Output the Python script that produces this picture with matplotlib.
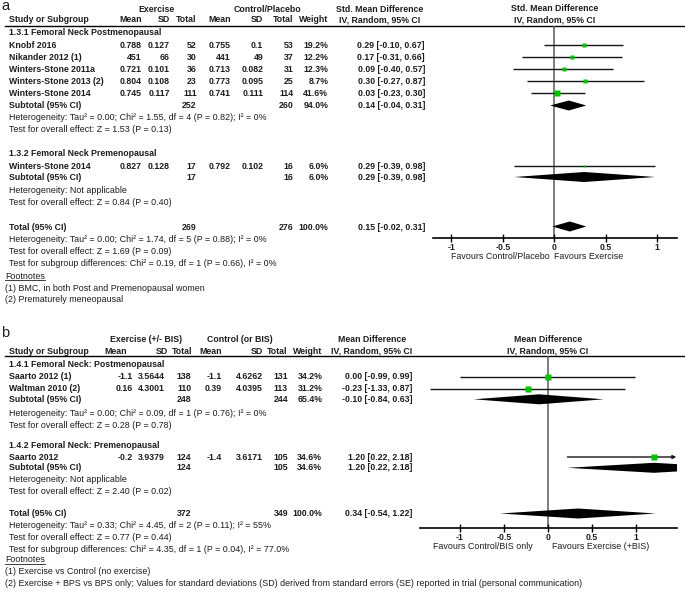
import numpy as np
import matplotlib.pyplot as plt

plt.rcParams['font.family'] = ['Liberation Sans', 'DejaVu Sans']

W, H = 685, 595

# ---------------- panel a data ----------------
a_groups = ["1.3.1 Femoral Neck Postmenopausal", "1.3.2 Femoral Neck Premenopausal"]
a_study = ["Knobf 2016", "Nikander 2012 (1)", "Winters-Stone 2011a",
           "Winters-Stone 2013 (2)", "Winters-Stone 2014", "Winters-Stone 2014"]
a_exp_mean = [0.788, 451, 0.721, 0.804, 0.745, 0.827]
a_exp_sd = [0.127, 66, 0.101, 0.108, 0.117, 0.128]
a_exp_n = [52, 30, 36, 23, 111, 17]
a_ctl_mean = [0.755, 441, 0.713, 0.773, 0.741, 0.792]
a_ctl_sd = [0.1, 49, 0.082, 0.095, 0.111, 0.102]
a_ctl_n = [53, 37, 31, 25, 114, 16]
a_weight = [19.2, 12.2, 12.3, 8.7, 41.6, 6.0]
a_est = [0.29, 0.17, 0.09, 0.30, 0.03, 0.29]
a_lo = [-0.10, -0.31, -0.40, -0.27, -0.23, -0.39]
a_hi = [0.67, 0.66, 0.57, 0.87, 0.30, 0.98]
a_sub_est = [0.14, 0.29]
a_sub_lo = [-0.04, -0.39]
a_sub_hi = [0.31, 0.98]
a_sub_exp_n = [252, 17]
a_sub_ctl_n = [260, 16]
a_sub_w = [94.0, 6.0]
a_tot = [0.15, -0.02, 0.31]
a_tot_n = [269, 276]
a_sub_het = ["Heterogeneity: Tau² = 0.00; Chi² = 1.55, df = 4 (P = 0.82); I² = 0%",
             "Heterogeneity: Not applicable"]
a_sub_z = ["Test for overall effect: Z = 1.53 (P = 0.13)",
           "Test for overall effect: Z = 0.84 (P = 0.40)"]
a_tot_notes = ["Heterogeneity: Tau² = 0.00; Chi² = 1.74, df = 5 (P = 0.88); I² = 0%",
               "Test for overall effect: Z = 1.69 (P = 0.09)",
               "Test for subgroup differences: Chi² = 0.19, df = 1 (P = 0.66), I² = 0%"]
a_foot = ["(1) BMC, in both Post and Premenopausal women",
          "(2) Prematurely meneopausal"]
a_heads = ["Exercise", "Control/Placebo", "Std. Mean Difference"]
a_favours = ["Favours Control/Placebo", "Favours Exercise"]

# ---------------- panel b data ----------------
b_groups = ["1.4.1 Femoral Neck: Postmenopausal", "1.4.2 Femoral Neck: Premenopausal"]
b_study = ["Saarto 2012 (1)", "Waltman 2010 (2)", "Saarto 2012"]
b_exp_mean = [-1.1, 0.16, -0.2]
b_exp_sd = [3.5644, 4.3001, 3.9379]
b_exp_n = [138, 110, 124]
b_ctl_mean = [-1.1, 0.39, -1.4]
b_ctl_sd = [4.6262, 4.0395, 3.6171]
b_ctl_n = [131, 113, 105]
b_weight = [34.2, 31.2, 34.6]
b_est = [0.00, -0.23, 1.20]
b_lo = [-0.99, -1.33, 0.22]
b_hi = [0.99, 0.87, 2.18]
b_sub_est = [-0.10, 1.20]
b_sub_lo = [-0.84, 0.22]
b_sub_hi = [0.63, 2.18]
b_sub_exp_n = [248, 124]
b_sub_ctl_n = [244, 105]
b_sub_w = [65.4, 34.6]
b_tot = [0.34, -0.54, 1.22]
b_tot_n = [372, 349]
b_sub_het = ["Heterogeneity: Tau² = 0.00; Chi² = 0.09, df = 1 (P = 0.76); I² = 0%",
             "Heterogeneity: Not applicable"]
b_sub_z = ["Test for overall effect: Z = 0.28 (P = 0.78)",
           "Test for overall effect: Z = 2.40 (P = 0.02)"]
b_tot_notes = ["Heterogeneity: Tau² = 0.33; Chi² = 4.45, df = 2 (P = 0.11); I² = 55%",
               "Test for overall effect: Z = 0.77 (P = 0.44)",
               "Test for subgroup differences: Chi² = 4.35, df = 1 (P = 0.04), I² = 77.0%"]
b_foot = ["(1) Exercise vs Control (no exercise)",
          "(2) Exercise + BPS vs BPS only; Values for standard deviations (SD) derived "
          "from standard errors (SE) reported in trial (personal communication)"]
b_heads = ["Exercise (+/- BIS)", "Control (or BIS)", "Mean Difference"]
b_favours = ["Favours Control/BIS only", "Favours Exercise (+BIS)"]

ticks = [-1, -0.5, 0, 0.5, 1]
tick_labels = ["-1", "-0.5", "0", "0.5", "1"]

FS = 6.4      # plain notes
FSB = 6.3     # bold table text
FSN = 6.3     # bold numbers
TXT = '#1c1c1c'
GREEN = '#00c400'

fig = plt.figure(figsize=(W / 100, H / 100), dpi=100)
bg = fig.add_axes([0, 0, 1, 1])
bg.set_xlim(0, W)
bg.set_ylim(H, 0)
bg.axis('off')


def t(x, y, s, ha='left', bold=False, size=None, **kw):
    return bg.text(x, y, s, ha=ha, va='center', color=TXT,
                   fontsize=size or (FSB if bold else FS),
                   fontweight='bold' if bold else 'normal', **kw)


def ci(e, l, h):
    return f"{e:.2f} [{l:.2f}, {h:.2f}]"


def panel(d, lay):
    cx = lay['cols']
    hx = lay.get('hcols', cx)
    t(1, lay['letter'], d['letter'], size=10.5)
    # headers
    t(lay['hx'][0], lay['h1'], d['heads'][0], ha='center', bold=True)
    t(lay['hx'][1], lay['h1'], d['heads'][1], ha='center', bold=True)
    t(lay['hx'][2], lay['h1'], d['heads'][2], ha='center', bold=True)
    t(lay['hx'][2], lay['h2'], "IV, Random, 95% CI", ha='center', bold=True)
    t(9, lay['h2'], "Study or Subgroup", bold=True)
    for x, s in zip(hx[:7], ["Mean", "SD", "Total", "Mean", "SD", "Total", "Weight"]):
        t(x, lay['h2'], s, ha='right', bold=True)
    bg.plot([5, W], [lay['line'], lay['line']], color='black', lw=1.0)

    # study rows
    for i, s in enumerate(d['study']):
        y = lay['study'][i]
        t(9, y, s, bold=True)
        vals = [str(d['exp_mean'][i]), str(d['exp_sd'][i]), str(d['exp_n'][i]),
                str(d['ctl_mean'][i]), str(d['ctl_sd'][i]), str(d['ctl_n'][i]),
                f"{d['weight'][i]:.1f}%"]
        for x, v in zip(cx, vals):
            t(x, y, v, ha='right', bold=True, size=FSN)
        t(cx[7], y, ci(d['est'][i], d['lo'][i], d['hi'][i]), ha='right', bold=True)
    # subgroups
    for g in range(2):
        t(9, lay['group'][g], d['groups'][g], bold=True)
        y = lay['sub'][g]
        t(9, y, "Subtotal (95% CI)", bold=True)
        t(cx[2], y, str(d['sub_exp_n'][g]), ha='right', bold=True, size=FSN)
        t(cx[5], y, str(d['sub_ctl_n'][g]), ha='right', bold=True, size=FSN)
        t(cx[6], y, f"{d['sub_w'][g]:.1f}%", ha='right', bold=True, size=FSN)
        t(cx[7], y, ci(d['sub_est'][g], d['sub_lo'][g], d['sub_hi'][g]), ha='right', bold=True)
        t(9, lay['het'][g], d['sub_het'][g])
        t(9, lay['z'][g], d['sub_z'][g])
    # total
    y = lay['total']
    t(9, y, "Total (95% CI)", bold=True)
    t(cx[2], y, str(d['tot_n'][0]), ha='right', bold=True, size=FSN)
    t(cx[5], y, str(d['tot_n'][1]), ha='right', bold=True, size=FSN)
    t(cx[6], y, "100.0%", ha='right', bold=True, size=FSN)
    t(cx[7], y, ci(*d['tot']), ha='right', bold=True)
    for yy, s in zip(lay['notes'], d['tot_notes']):
        t(9, yy, s)
    ft = t(5, lay['fnote'], "Footnotes")
    fig.canvas.draw()
    bb = ft.get_window_extent().transformed(bg.transData.inverted())
    bg.plot([bb.x0, bb.x1], [lay['fnote'] + 3.6] * 2, color=TXT, lw=0.6)
    for yy, s in zip(lay['foot'], d['foot']):
        t(5, yy, s)

    # forest axes: x in effect units, y in pixel rows
    x0, x1, top, bot = lay['ax_px']
    ax = fig.add_axes([x0 / W, 1 - bot / H, (x1 - x0) / W, (bot - top) / H])
    ax.set_facecolor('none')
    ax.set_xlim(*lay['xlim'])
    ax.set_ylim(bot, top)
    for sp in ['top', 'left', 'right']:
        ax.spines[sp].set_visible(False)
    ax.spines['bottom'].set_linewidth(1.2)
    ax.set_yticks([])
    ax.set_xticks(ticks)
    ax.set_xticklabels(tick_labels, fontsize=FSB, fontweight='bold', color=TXT)
    ax.tick_params(axis='x', direction='inout', length=6, width=1.0, pad=0.5)
    ax.axvline(0, color='#5a5a5a', lw=1.1, zorder=1)

    xmax = lay['xlim'][1]
    for i in range(len(d['study'])):
        y = lay['study'][i]
        if d['hi'][i] > xmax:
            ax.annotate('', xy=(xmax - 0.005, y), xytext=(d['lo'][i], y),
                        arrowprops=dict(arrowstyle='-|>', color='#151515', lw=1.0,
                                        mutation_scale=5, shrinkA=0, shrinkB=0))
        else:
            ax.hlines(y, d['lo'][i], d['hi'][i], color='#151515', lw=1.0, zorder=2)
        ms = np.sqrt(d['weight'][i]) * 1.05 * 72 / 100
        ax.plot(d['est'][i], y, 's', ms=ms, color=GREEN, mec='none', zorder=3)

    def diamond(e, l, h, y):
        ax.fill([l, e, h, e], [y, y - 5, y, y + 5], color='black', lw=0, zorder=3)

    for g in range(2):
        diamond(d['sub_est'][g], d['sub_lo'][g], d['sub_hi'][g], lay['sub'][g])
    diamond(d['tot'][0], d['tot'][1], d['tot'][2], lay['total'] - 0.5)

    # right-hand headers and favours labels
    ax.text(0, lay['h1'], d['heads'][2], ha='center', va='center', fontsize=FSB,
            fontweight='bold', color=TXT, clip_on=False)
    ax.text(0, lay['h2'], "IV, Random, 95% CI", ha='center', va='center', fontsize=FSB,
            fontweight='bold', color=TXT, clip_on=False)
    ax.text(lay['fav_x'][0], lay['fav'], d['favours'][0], ha='right', va='center',
            fontsize=FS, color=TXT, clip_on=False)
    ax.text(lay['fav_x'][1], lay['fav'], d['favours'][1], ha='left', va='center',
            fontsize=FS, color=TXT, clip_on=False)


data_a = dict(letter='a', groups=a_groups, study=a_study, exp_mean=a_exp_mean,
              exp_sd=a_exp_sd, exp_n=a_exp_n, ctl_mean=a_ctl_mean, ctl_sd=a_ctl_sd,
              ctl_n=a_ctl_n, weight=a_weight, est=a_est, lo=a_lo, hi=a_hi,
              sub_est=a_sub_est, sub_lo=a_sub_lo, sub_hi=a_sub_hi,
              sub_exp_n=a_sub_exp_n, sub_ctl_n=a_sub_ctl_n, sub_w=a_sub_w,
              tot=a_tot, tot_n=a_tot_n, sub_het=a_sub_het, sub_z=a_sub_z,
              tot_notes=a_tot_notes, foot=a_foot, heads=a_heads, favours=a_favours)
lay_a = dict(letter=6, h1=9, h2=20, line=25.7,
             cols=[141.7, 170, 196.7, 230.7, 263.3, 293.3, 328.3, 425],
             hx=[157, 267, 380],
             group=[32.7, 154], study=[45, 57, 69, 81, 93, 166.5],
             sub=[105.5, 177], het=[117, 190.5], z=[129, 202.5],
             total=227, notes=[239.5, 251.5, 264], fnote=276.5, foot=[288.5, 300],
             ax_px=[432.7, 677, 25.7, 237.7], xlim=(-1.181, 1.191),
             fav=256.7, fav_x=(-0.04, 0.0))

data_b = dict(letter='b', groups=b_groups, study=b_study, exp_mean=b_exp_mean,
              exp_sd=b_exp_sd, exp_n=b_exp_n, ctl_mean=b_ctl_mean, ctl_sd=b_ctl_sd,
              ctl_n=b_ctl_n, weight=b_weight, est=b_est, lo=b_lo, hi=b_hi,
              sub_est=b_sub_est, sub_lo=b_sub_lo, sub_hi=b_sub_hi,
              sub_exp_n=b_sub_exp_n, sub_ctl_n=b_sub_ctl_n, sub_w=b_sub_w,
              tot=b_tot, tot_n=b_tot_n, sub_het=b_sub_het, sub_z=b_sub_z,
              tot_notes=b_tot_notes, foot=b_foot, heads=b_heads, favours=b_favours)
lay_b = dict(letter=333, h1=340, h2=351, line=355.7,
             cols=[132.5, 165, 191.5, 222, 263, 288, 322.3, 412.7],
             hcols=[126.7, 168.3, 192.7, 221.7, 263.3, 287.3, 322.3],
             hx=[146.5, 240, 372],
             group=[364.3, 446], study=[376.5, 388.5, 457],
             sub=[399.3, 467.8], het=[413.3, 480], z=[426, 491.7],
             total=514, notes=[526, 537.5, 549.3], fnote=560, foot=[571.7, 583.3],
             ax_px=[420, 676.7, 355.7, 528.3], xlim=(-1.448, 1.457),
             fav=546.7, fav_x=(-0.17, 0.05))

panel(data_a, lay_a)
panel(data_b, lay_b)

fig.savefig('out.png', dpi=100)
